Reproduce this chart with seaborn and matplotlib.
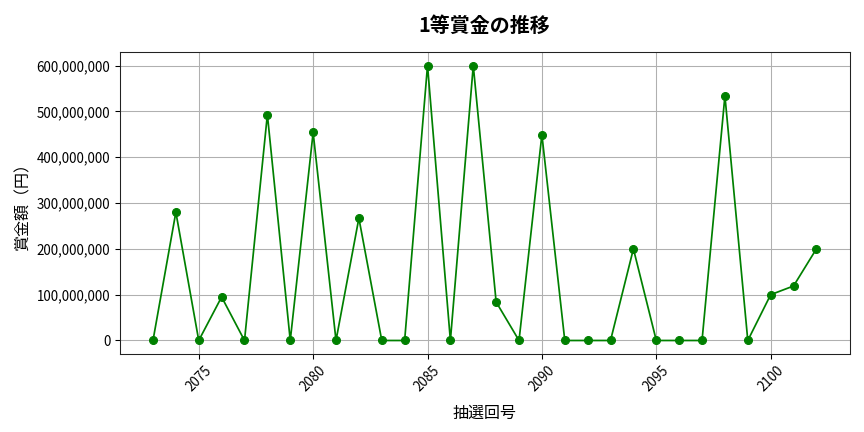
import numpy as np
import pandas as pd
import matplotlib
matplotlib.use("Agg")
import matplotlib.pyplot as plt
import matplotlib.ticker as mticker
import seaborn as sns

# 抽選回号と1等賞金
draws = list(range(2073, 2103))
prizes = [
    0, 280_000_000, 0, 95_000_000, 0, 493_000_000, 0, 454_000_000, 0, 267_000_000,
    0, 0, 600_000_000, 0, 600_000_000, 84_000_000, 0, 449_000_000, 0, 0,
    0, 200_000_000, 0, 0, 0, 534_000_000, 0, 100_000_000, 119_000_000, 200_000_000,
]

df = pd.DataFrame({"draw": draws, "prize": prizes})

sns.set_style("ticks", {"text.color": "black", "axes.labelcolor": "black",
                        "xtick.color": "black", "ytick.color": "black",
                        "axes.edgecolor": "#222222"})
plt.rcParams["font.family"] = ["Noto Sans CJK JP", "DejaVu Sans"]

fig, ax = plt.subplots(figsize=(9, 4.5), dpi=96)
sns.lineplot(data=df, x="draw", y="prize", marker="o", color="green",
             markeredgecolor="green", markersize=6, linewidth=1.3, ax=ax)

ax.set_title("1等賞金の推移", fontsize=15, fontweight="bold", pad=15)
ax.set_xlabel("抽選回号", fontsize=12, labelpad=8)
ax.set_ylabel("賞金額（円）", fontsize=12)
ax.yaxis.set_major_formatter(mticker.FuncFormatter(lambda v, p: f"{int(v):,}"))
ax.xaxis.set_major_locator(mticker.MultipleLocator(5))
ax.tick_params(axis="x", rotation=45, labelsize=10)
ax.tick_params(axis="y", labelsize=10)
ax.grid(True, color="#b0b0b0", linewidth=0.8)

plt.tight_layout()
plt.subplots_adjust(top=0.88, bottom=0.18)
plt.savefig("out.png", dpi=96)
